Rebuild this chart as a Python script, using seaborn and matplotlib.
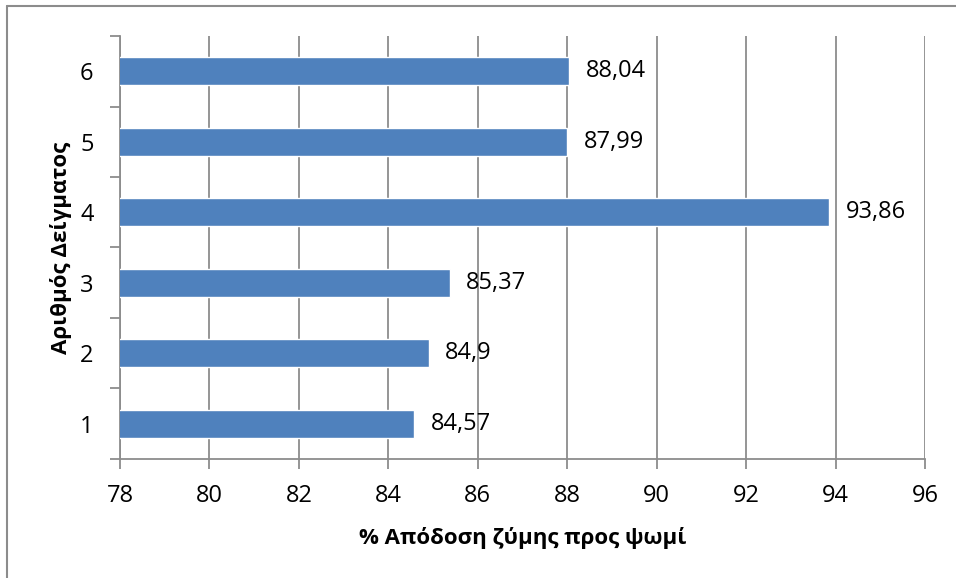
import matplotlib
matplotlib.use("Agg")
import matplotlib.pyplot as plt
import seaborn as sns
import pandas as pd
from matplotlib.lines import Line2D

# Sample numbers and dough-to-bread yield (%)
samples = ["1", "2", "3", "4", "5", "6"]
yields = [84.57, 84.9, 85.37, 93.86, 87.99, 88.04]
x_ticks = [78, 80, 82, 84, 86, 88, 90, 92, 94, 96]

sns.set_theme(style="white")
plt.rcParams["font.family"] = ["Open Sans", "DejaVu Sans"]
plt.rcParams["text.color"] = "black"
plt.rcParams["axes.labelcolor"] = "black"

df = pd.DataFrame({"sample": samples, "yield": yields})
order = samples[::-1]

fig = plt.figure(figsize=(9.56, 5.78), dpi=100)
ax = fig.add_axes([0.1255, 0.2059, 0.8421, 0.7318])

bar_color = "#4F81BD"
grid_color = "#8C8C8C"
tick_size = 17

sns.barplot(data=df, x="yield", y="sample", order=order, orient="h",
            color=bar_color, saturation=1, width=0.4, ax=ax, zorder=3)

ax.set_xlim(78, 96)
ax.set_ylim(5.5, -0.5)
ax.set_xticks(x_ticks)
ax.set_xticklabels([str(t) for t in x_ticks], fontsize=tick_size)
ax.set_yticks(range(len(order)))
ax.set_yticklabels(order, fontsize=tick_size)
ax.set_yticks([i - 0.5 for i in range(len(order) + 1)], minor=True)

ax.xaxis.grid(True, color=grid_color, linewidth=1.3, zorder=0)
ax.yaxis.grid(False)
for side in ("top", "right"):
    ax.spines[side].set_visible(False)
for side in ("left", "bottom"):
    ax.spines[side].set_color(grid_color)
    ax.spines[side].set_linewidth(1.3)

ax.tick_params(axis="y", which="major", length=0, pad=19, labelcolor="black")
ax.tick_params(axis="y", which="minor", left=True, length=7, width=1.3, color=grid_color)
ax.tick_params(axis="x", which="major", bottom=True, length=7, width=1.3,
               color=grid_color, pad=11, labelcolor="black")

ax.set_xlabel("% Απόδοση ζύμης προς ψωμί", fontsize=16, fontweight="bold", labelpad=14)
ax.set_ylabel("Αριθμός Δείγματος", fontsize=16, fontweight="bold", labelpad=6)

# Value labels at the end of each bar, decimal comma
for i, s in enumerate(order):
    v = yields[samples.index(s)]
    ax.annotate(str(v).replace(".", ","), xy=(v, i), xytext=(12, 0),
                textcoords="offset points", va="center", ha="left",
                fontsize=tick_size, color="black")

# Outer chart frame
fig.add_artist(Line2D([0.0078, 0.0078], [0.0, 0.9890], transform=fig.transFigure,
                      color="#8C8C8C", linewidth=1.5))
fig.add_artist(Line2D([0.0078, 1.0], [0.9890, 0.9890], transform=fig.transFigure,
                      color="#8C8C8C", linewidth=1.5))

fig.savefig("out.png", dpi=100)
